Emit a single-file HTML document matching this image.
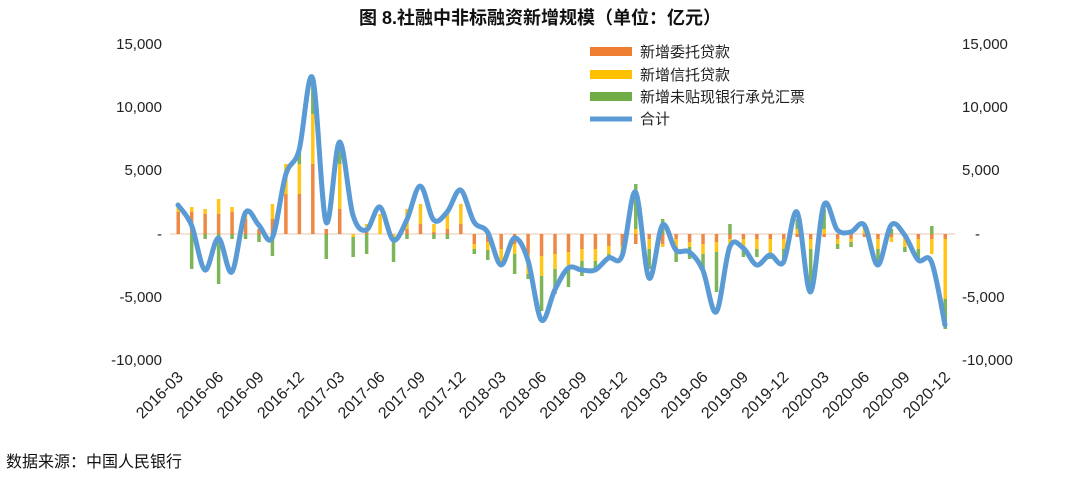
<!DOCTYPE html><html><head><meta charset="utf-8"><style>
body{margin:0;background:#fff;width:1080px;height:478px;overflow:hidden;font-family:"Liberation Sans","Noto Sans CJK SC",sans-serif}
</style></head><body>
<svg id="s" width="1080" height="478" xmlns="http://www.w3.org/2000/svg" font-family="Liberation Sans, Noto Sans CJK SC, sans-serif">
<text x="540" y="24" text-anchor="middle" font-size="18" font-weight="bold" fill="#111">图 8.社融中非标融资新增规模（单位：亿元）</text>
<g font-size="15" fill="#222" text-anchor="end">
<text x="162" y="49">15,000</text><text x="162" y="112">10,000</text><text x="162" y="175">5,000</text><text x="162" y="239">-</text><text x="162" y="302">-5,000</text><text x="162" y="365">-10,000</text>
</g>
<g font-size="15" fill="#222" text-anchor="start">
<text x="962" y="49">15,000</text><text x="962" y="112">10,000</text><text x="962" y="175">5,000</text><text x="975" y="239">-</text><text x="962" y="302">-5,000</text><text x="962" y="365">-10,000</text>
</g>
<line x1="170" y1="234" x2="955" y2="234" stroke="#e8c8b0" stroke-width="1"/>
<g id="bars" opacity="0.9"></g>
<path id="ln" fill="none" stroke="#5b9bd5" stroke-width="5" stroke-linejoin="round" stroke-linecap="round"/>
<g id="xl" font-size="16" fill="#222"></g>
<g font-size="15" fill="#222">
<rect x="590" y="47" width="42" height="9" fill="#ed7d31"/><text x="640" y="57">新增委托贷款</text>
<rect x="590" y="70" width="42" height="9" fill="#ffc000"/><text x="640" y="80">新增信托贷款</text>
<rect x="590" y="92" width="42" height="9" fill="#70ad47"/><text x="640" y="102">新增未贴现银行承兑汇票</text>
<line x1="590" y1="119" x2="632" y2="119" stroke="#5b9bd5" stroke-width="5"/><text x="640" y="124">合计</text>
</g>
<text x="6" y="467" font-size="16" fill="#111">数据来源：中国人民银行</text>
</svg>
<script>
var Y=[205,225,270,238,272,213,225,238,175,150,78,222,142,215,230,207,240,220,186,220,212,190,222,232,265,238,260,320,290,268,270,270,258,256,192,278,225,250,252,270,312,247,248,265,255,262,212,292,205,230,232,225,265,225,235,260,262,325];
var n=Y.length,x0=178,st=(945-178)/57,Z=234;
function X(i){return x0+i*st}
var d="M"+X(0)+","+Y[0];
for(var i=0;i<n-1;i++){var p0=i?i-1:i,p3=i+2<n?i+2:i+1;
var c1x=X(i)+(X(i+1)-X(p0))/6,c1y=Y[i]+(Y[i+1]-Y[p0])/6,c2x=X(i+1)-(X(p3)-X(i))/6,c2y=Y[i+1]-(Y[p3]-Y[i])/6;
d+=" C"+c1x+","+c1y+" "+c2x+","+c2y+" "+X(i+1)+","+Y[i+1];}
document.getElementById("ln").setAttribute("d",d);
var O=[22,22,20,20,22,15,5,15,40,40,70,5,25,0,5,0,0,5,10,2,5,10,-10,-8,-15,-10,-20,-22,-20,-18,-15,-15,-12,-12,-10,-5,-10,-5,-8,-10,-8,-5,-5,-5,-5,-5,-3,-5,-3,-5,-5,-3,-5,-3,-3,-5,-5,-5];
var Yl=[8,5,5,15,5,8,0,15,30,30,50,0,45,-3,5,20,-3,20,20,8,20,20,-5,-8,-15,-10,-20,-20,-15,-15,-12,-12,-8,-5,5,-10,-3,-8,-5,-10,-10,-5,-8,-10,-15,-10,5,-10,5,-5,-3,5,-10,-5,-10,-10,-15,-60];
var G=[0,-35,-5,-50,-5,-5,-8,-22,0,14,36,-25,22,-20,-20,0,-25,-5,0,-5,-5,0,-5,-10,-3,-20,-5,-35,-25,-20,-15,-10,-5,-5,45,-20,15,-15,-12,-15,-40,10,-10,-8,-5,-10,10,-40,20,-5,-5,5,-15,5,-5,-10,8,-30];
var cols=["#ed7d31","#ffc000","#70ad47"],s="";
for(var i=0;i<n;i++){var up=0,dn=0,vs=[O[i],Yl[i],G[i]];
for(var k=0;k<3;k++){var v=vs[k];if(!v)continue;var x=X(i)-1.5;
if(v>0){s+='<rect x="'+x+'" y="'+(Z-up-v)+'" width="3.5" height="'+v+'" fill="'+cols[k]+'"/>';up+=v;}
else{s+='<rect x="'+x+'" y="'+(Z+dn)+'" width="3.5" height="'+(-v)+'" fill="'+cols[k]+'"/>';dn-=v;}}}
document.getElementById("bars").innerHTML=s;
var labs=["2016-03","2016-06","2016-09","2016-12","2017-03","2017-06","2017-09","2017-12","2018-03","2018-06","2018-09","2018-12","2019-03","2019-06","2019-09","2019-12","2020-03","2020-06","2020-09","2020-12"],t="";
for(var j=0;j<labs.length;j++){var x=X(j*3)+6;t+='<text x="'+x+'" y="378" text-anchor="end" transform="rotate(-45 '+x+' 378)">'+labs[j]+'</text>';}
document.getElementById("xl").innerHTML=t;
</script>
</body></html>
